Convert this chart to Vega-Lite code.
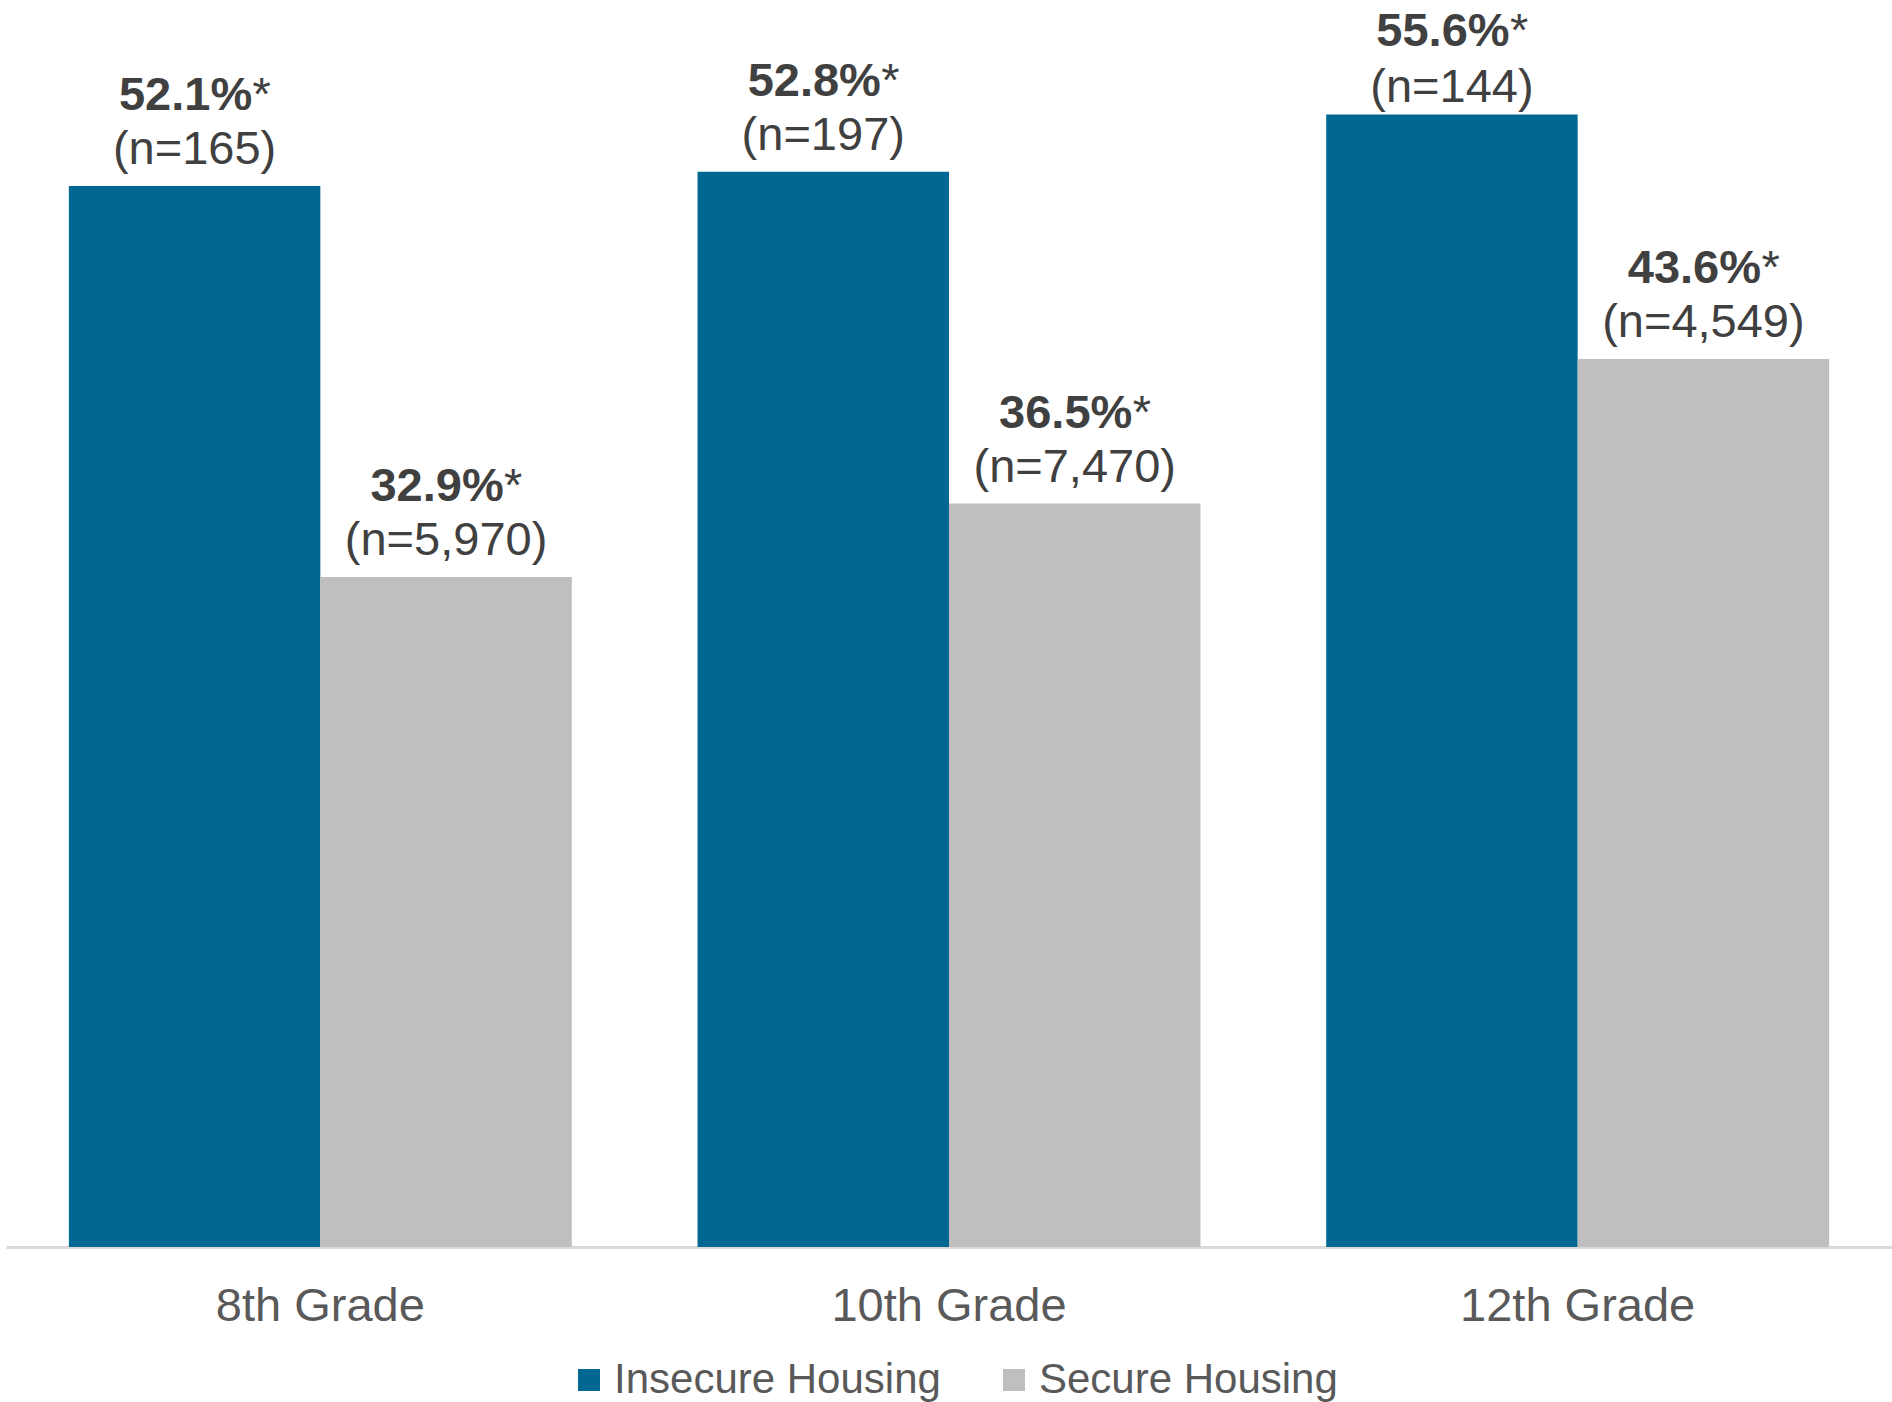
{
  "$schema": "https://vega.github.io/schema/vega-lite/v6.json",
  "width": 1886,
  "height": 1222,
  "autosize": {"type": "none"},
  "padding": {"left": 6, "top": 25, "right": 0, "bottom": 155},
  "background": "white",
  "config": {"view": {"stroke": null}, "font": "Liberation Sans"},
  "data": {
    "values": [
      {"grade": "8th Grade", "group": "Insecure Housing", "pct": 52.1, "pctLabel": "52.1%", "n": "(n=165)"},
      {"grade": "8th Grade", "group": "Secure Housing", "pct": 32.9, "pctLabel": "32.9%", "n": "(n=5,970)"},
      {"grade": "10th Grade", "group": "Insecure Housing", "pct": 52.8, "pctLabel": "52.8%", "n": "(n=197)"},
      {"grade": "10th Grade", "group": "Secure Housing", "pct": 36.5, "pctLabel": "36.5%", "n": "(n=7,470)"},
      {"grade": "12th Grade", "group": "Insecure Housing", "pct": 55.6, "pctLabel": "55.6%", "n": "(n=144)"},
      {"grade": "12th Grade", "group": "Secure Housing", "pct": 43.6, "pctLabel": "43.6%", "n": "(n=4,549)"}
    ]
  },
  "encoding": {
    "x": {
      "field": "grade", "type": "nominal", "sort": ["8th Grade", "10th Grade", "12th Grade"],
      "scale": {"paddingInner": 0.2, "paddingOuter": 0.1},
      "axis": {"title": null, "labelAngle": 0, "ticks": false, "tickSize": 0, "labelPadding": 73, "labelBaseline": "alphabetic",
               "labelFontSize": 47, "labelColor": "#595959", "labelFont": "Liberation Sans", "labelLimit": 0,
               "domainColor": "#d9d9d9", "domainWidth": 3, "grid": false}
    },
    "xOffset": {"field": "group", "type": "nominal", "sort": ["Insecure Housing", "Secure Housing"], "scale": {"paddingInner": 0, "paddingOuter": 0}},
    "y": {"field": "pct", "type": "quantitative", "scale": {"domain": [0, 60], "nice": false}, "axis": null}
  },
  "layer": [
    {
      "mark": {"type": "bar"},
      "encoding": {
        "color": {
          "field": "group", "type": "nominal",
          "scale": {"domain": ["Insecure Housing", "Secure Housing"], "range": ["#016893", "#bfbfbf"]},
          "legend": {
            "title": null, "orient": "none", "direction": "horizontal", "legendX": 562, "legendY": 1334,
            "symbolType": "square", "symbolSize": 484, "symbolStrokeWidth": 0,
            "labelFontSize": 42, "labelColor": "#595959", "labelFont": "Liberation Sans", "labelLimit": 1000,
            "labelOffset": 4, "columnPadding": 52, "padding": 0
          }
        }
      }
    },
    {
      "transform": [{"filter": "datum.pct < 55"}],
      "layer": [
        {
          "mark": {"type": "text", "fontWeight": "bold", "fontSize": 47, "color": "#404040", "baseline": "alphabetic", "align": "center", "dx": -9, "dy": -76, "font": "Liberation Sans"},
          "encoding": {"text": {"field": "pctLabel"}}
        },
        {
          "mark": {"type": "text", "fontSize": 47, "color": "#404040", "baseline": "alphabetic", "align": "left", "dx": 58, "dy": -76, "font": "Liberation Sans"},
          "encoding": {"text": {"value": "*"}}
        },
        {
          "mark": {"type": "text", "fontSize": 47, "color": "#404040", "baseline": "alphabetic", "align": "center", "dy": -22, "font": "Liberation Sans"},
          "encoding": {"text": {"field": "n"}}
        }
      ]
    },
    {
      "transform": [{"filter": "datum.pct >= 55"}],
      "layer": [
        {
          "mark": {"type": "text", "fontWeight": "bold", "fontSize": 47, "color": "#404040", "baseline": "alphabetic", "align": "center", "dx": -9, "dy": -69, "font": "Liberation Sans"},
          "encoding": {"text": {"field": "pctLabel"}}
        },
        {
          "mark": {"type": "text", "fontSize": 47, "color": "#404040", "baseline": "alphabetic", "align": "left", "dx": 58, "dy": -69, "font": "Liberation Sans"},
          "encoding": {"text": {"value": "*"}}
        },
        {
          "mark": {"type": "text", "fontSize": 47, "color": "#404040", "baseline": "alphabetic", "align": "center", "dy": -13, "font": "Liberation Sans"},
          "encoding": {"text": {"field": "n"}}
        }
      ]
    }
  ]
}
